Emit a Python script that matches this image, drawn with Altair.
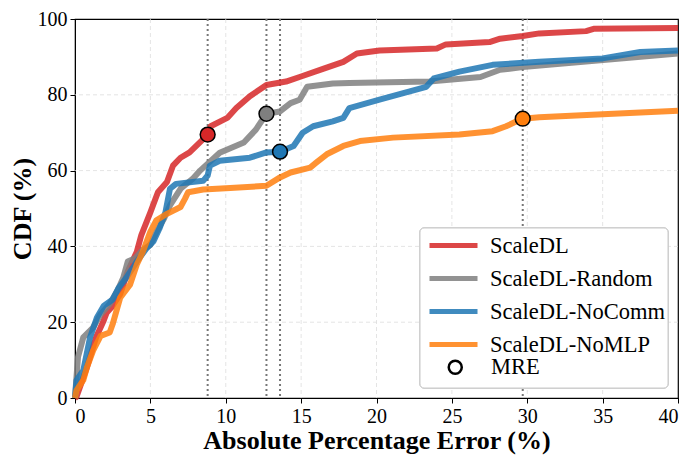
import altair as alt
import pandas as pd

FONT = "Liberation Serif"

series = ["ScaleDL", "ScaleDL-Random", "ScaleDL-NoComm", "ScaleDL-NoMLP"]
line_colors = ["#d62728", "#7f7f7f", "#1f77b4", "#ff7f0e"]

x_ticks = [0, 5, 10, 15, 20, 25, 30, 35, 40]
y_ticks = [0, 20, 40, 60, 80, 100]

scaledl_x = [0, 0.1, 0.8, 1.4, 1.9, 2.1, 2.4, 3.0, 3.5, 4.1, 4.4, 5.0, 5.5, 6.1, 6.5, 7.0, 7.6, 8.3, 8.8, 9.0,
             10.1, 10.7, 11.6, 12.7, 14.0, 14.9, 16.5, 17.8, 18.7, 20.2, 24.0, 24.6, 27.5, 28.2, 29.7, 30.8,
             33.9, 34.4, 40]
scaledl_y = [0, 0.3, 8.2, 16.0, 20.4, 22.5, 23.8, 27.4, 33.4, 38.6, 43.0, 49.0, 54.3, 57.0, 61.3, 63.4, 64.8,
             67.5, 69.5, 71.7, 73.9, 76.5, 79.6, 82.6, 83.5, 84.7, 86.9, 88.7, 90.9, 91.7, 92.2, 93.3, 93.9,
             94.8, 95.5, 96.2, 96.8, 97.4, 97.6]

random_x = [0, 0.1, 0.2, 0.55, 1.2, 1.7, 2.3, 2.8, 3.2, 3.5, 4.0, 4.5, 5.0, 5.4, 5.9, 6.3, 7.0, 7.8, 8.3, 9.6,
            11.2, 12.0, 12.7, 13.6, 14.3, 14.9, 15.4, 17.1, 18.2, 23.5, 26.9, 28.2, 29.7, 40]
random_y = [0, 5.6, 10.8, 16.0, 18.6, 22.1, 24.8, 28.2, 31.7, 36.0, 36.9, 39.1, 40.4, 43.8, 47.3, 50.8, 55.2,
            57.8, 60.0, 64.7, 67.4, 70.8, 75.0, 75.6, 77.8, 78.7, 82.1, 83.0, 83.1, 83.5, 84.7, 86.6, 87.3, 90.9]

nocomm_x = [0, 0.1, 0.55, 1.0, 1.45, 1.9, 2.5, 2.9, 3.4, 4.1, 4.75, 5.2, 5.6, 6.0, 6.3, 6.7, 8.5, 8.8, 8.95,
            9.6, 11.6, 12.7, 13.6, 14.5, 15.1, 15.8, 17.1, 17.8, 18.2, 20.2, 23.3, 23.8, 25.5, 27.7, 30.8,
            35.0, 37.5, 40]
nocomm_y = [0, 4.7, 7.3, 16.0, 21.2, 24.3, 26.0, 29.1, 31.7, 36.0, 39.5, 41.3, 44.7, 49.0, 55.2, 56.5, 57.3,
            58.7, 61.3, 62.6, 63.4, 64.8, 65.0, 66.5, 70.0, 71.7, 73.0, 73.9, 76.5, 78.7, 82.1, 84.3, 86.1,
            87.9, 88.7, 89.6, 91.3, 91.7]

nomlp_x = [0, 0.1, 0.55, 0.8, 1.2, 1.7, 2.3, 2.5, 3.0, 3.65, 4.1, 4.5, 5.0, 5.4, 6.1, 7.0, 7.3, 7.5, 8.5, 10.3,
           12.7, 13.6, 14.3, 15.6, 16.0, 16.7, 17.8, 18.9, 21.1, 25.5, 27.7, 28.6, 29.3, 29.7, 30.8, 35.0, 40]
nomlp_y = [0, 2.0, 4.7, 8.2, 12.5, 16.4, 17.3, 19.5, 26.5, 29.9, 35.2, 38.6, 43.9, 46.9, 48.6, 50.4, 52.6,
           54.3, 55.0, 55.4, 56.0, 58.2, 59.5, 60.8, 62.1, 64.3, 66.5, 67.8, 68.7, 69.5, 70.4, 71.7, 73.0,
           73.7, 74.1, 74.9, 75.8]

mre_x = [8.8, 12.7, 13.6, 29.7]
mre_y = [69.5, 75.0, 65.0, 73.7]
mre_label = "MRE"

rows = []
for s, xs, ys in zip(series, [scaledl_x, random_x, nocomm_x, nomlp_x],
                     [scaledl_y, random_y, nocomm_y, nomlp_y]):
    for i, (a, b) in enumerate(zip(xs, ys)):
        rows.append({"series": s, "x": a, "y": b, "i": i})
lines_df = pd.DataFrame(rows)
mre_df = pd.DataFrame({"series": series, "x": mre_x, "y": mre_y, "marker": [mre_label] * 4})
xgrid_df = pd.DataFrame({"x": x_ticks[1:-1]})
ygrid_df = pd.DataFrame({"y": y_ticks[1:-1]})

xscale = alt.Scale(domain=[0, 40], nice=False)
yscale = alt.Scale(domain=[0, 100], nice=False)

x_axis = alt.Axis(title="Absolute Percentage Error (%)", values=x_ticks, grid=False)
y_axis = alt.Axis(title="CDF (%)", values=y_ticks, grid=False)

grid_style = dict(color="#dddddd", strokeDash=[4, 3], strokeWidth=0.8)
xgrid = alt.Chart(xgrid_df).mark_rule(**grid_style).encode(x=alt.X("x:Q", scale=xscale, axis=x_axis))
ygrid = alt.Chart(ygrid_df).mark_rule(**grid_style).encode(y=alt.Y("y:Q", scale=yscale, axis=y_axis))

rules = alt.Chart(mre_df).mark_rule(color="#777777", strokeDash=[2, 3], strokeWidth=2).encode(
    x=alt.X("x:Q", scale=xscale, axis=x_axis)
)

lines = alt.Chart(lines_df).mark_line(strokeWidth=6, opacity=0.85, strokeJoin="round").encode(
    x=alt.X("x:Q", scale=xscale, axis=x_axis),
    y=alt.Y("y:Q", scale=yscale, axis=y_axis),
    stroke=alt.Stroke("series:N", scale=alt.Scale(domain=series, range=line_colors),
                      legend=alt.Legend(title=None, orient="none", legendX=364, legendY=212,
                                        symbolType="M-2,0L2,0", symbolSize=576, symbolStrokeWidth=5,
                                        symbolOpacity=0.85, labelFontSize=22.5, labelFont=FONT,
                                        labelOffset=22, rowPadding=7, padding=0, labelLimit=400)),
    order="i:Q",
)

points = alt.Chart(mre_df).mark_point(filled=True, size=220, stroke="black", strokeWidth=1.5, opacity=1).encode(
    x=alt.X("x:Q", scale=xscale),
    y=alt.Y("y:Q", scale=yscale),
    fill=alt.Fill("series:N", scale=alt.Scale(domain=series, range=line_colors), legend=None),
    shape=alt.Shape("marker:N", scale=alt.Scale(domain=[mre_label], range=["circle"]),
                    legend=alt.Legend(title=None, orient="none", legendX=369, legendY=337,
                                      symbolSize=170, symbolStrokeWidth=2.5, symbolFillColor="white",
                                      symbolStrokeColor="black", labelFontSize=22.5, labelFont=FONT,
                                      labelOffset=24.5, padding=0, labelLimit=400)),
)

frame = alt.Chart(mre_df).mark_rect(cornerRadius=4, fill="white", fillOpacity=0.9,
                                    stroke="#cccccc", strokeWidth=1).encode(
    x=alt.value(345), x2=alt.value(593), y=alt.value(209), y2=alt.value(369)
)

chart = alt.layer(xgrid, ygrid, rules, lines, points, frame).resolve_scale(
    stroke="independent", fill="independent", shape="independent"
).properties(
    width=603, height=379,
    autosize=alt.AutoSizeParams(type="none"),
    padding={"left": 67, "top": 11, "right": 10, "bottom": 58},
).configure_view(
    stroke="black", strokeWidth=1.2
).configure_axis(
    labelFont=FONT, titleFont=FONT, labelFontSize=20, titleFontSize=26, titleFontWeight="bold",
    labelColor="black", titleColor="black", domainColor="black", tickColor="black",
    tickSize=5, labelPadding=3,
).configure_axisX(titlePadding=1).configure_axisY(titlePadding=2)

chart.save("out.html", embed_options={"renderer": "svg", "actions": False})
